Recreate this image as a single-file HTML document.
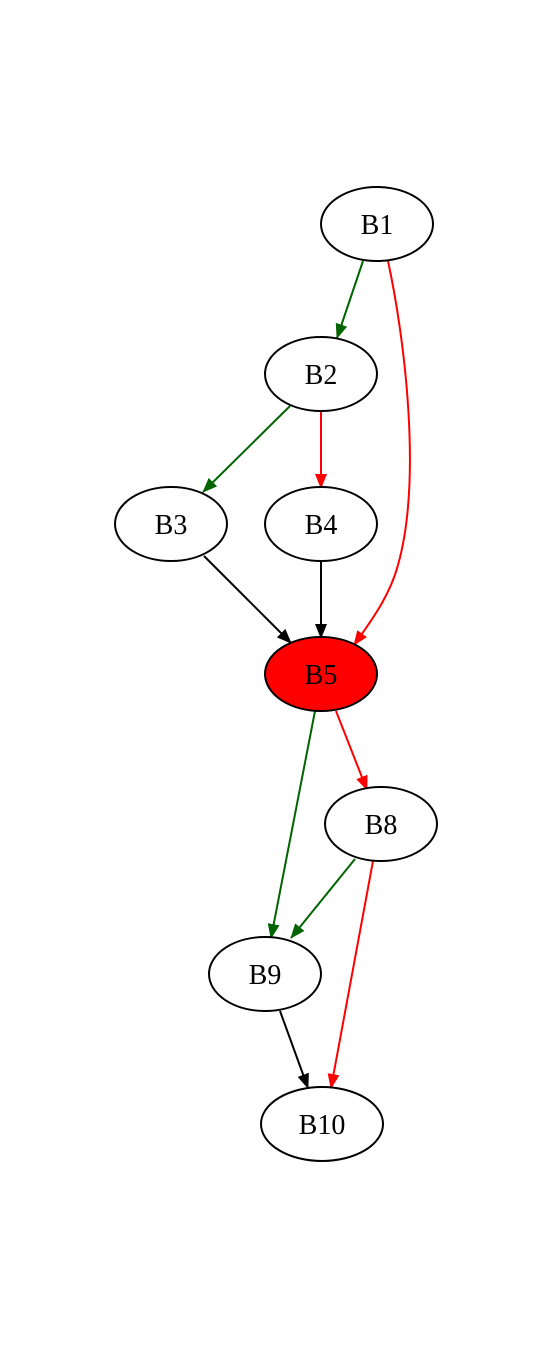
<!DOCTYPE html>
<html><head><meta charset="utf-8"><style>html,body{margin:0;padding:0;background:#fff}</style></head>
<body>
<svg width="550" height="1350" viewBox="0 0 550 1350" xmlns="http://www.w3.org/2000/svg">
<defs>
<marker id="ag" markerWidth="15" markerHeight="13" refX="14" refY="6.5" orient="auto" markerUnits="userSpaceOnUse"><path d="M0,0.5 L15,6.5 L0,12.5 z" fill="#006400"/></marker>
<marker id="ar" markerWidth="15" markerHeight="13" refX="14" refY="6.5" orient="auto" markerUnits="userSpaceOnUse"><path d="M0,0.5 L15,6.5 L0,12.5 z" fill="#f00"/></marker>
<marker id="ab" markerWidth="15" markerHeight="13" refX="14" refY="6.5" orient="auto" markerUnits="userSpaceOnUse"><path d="M0,0.5 L15,6.5 L0,12.5 z" fill="#000"/></marker>
</defs>
<g fill="none" stroke-width="2">
<path d="M363,261 L337,338" stroke="#006400" marker-end="url(#ag)"/>
<path d="M388,261 C405,340 422,480 398,565 C390,595 372,620 354,645" stroke="#f00" marker-end="url(#ar)"/>
<path d="M290,406 L203,492" stroke="#006400" marker-end="url(#ag)"/>
<path d="M321,411 L321,488" stroke="#f00" marker-end="url(#ar)"/>
<path d="M204,556 L291,643" stroke="#000" marker-end="url(#ab)"/>
<path d="M321,561 L321,638" stroke="#000" marker-end="url(#ab)"/>
<path d="M315,711 L271,938" stroke="#006400" marker-end="url(#ag)"/>
<path d="M336,711 L367,790" stroke="#f00" marker-end="url(#ar)"/>
<path d="M355,859 L291,938" stroke="#006400" marker-end="url(#ag)"/>
<path d="M373,861 L331,1088" stroke="#f00" marker-end="url(#ar)"/>
<path d="M280,1011 L308,1088" stroke="#000" marker-end="url(#ab)"/>
</g>
<g stroke="#000" stroke-width="2" fill="#fff">
<ellipse cx="377" cy="224" rx="56" ry="37"/>
<ellipse cx="321" cy="374" rx="56" ry="37"/>
<ellipse cx="171" cy="524" rx="56" ry="37"/>
<ellipse cx="321" cy="524" rx="56" ry="37"/>
<ellipse cx="321" cy="674" rx="56" ry="37" fill="#f00"/>
<ellipse cx="381" cy="824" rx="56" ry="37"/>
<ellipse cx="265" cy="974" rx="56" ry="37"/>
<ellipse cx="322" cy="1124" rx="61" ry="37"/>
</g>
<g font-family="Liberation Serif, serif" font-size="28" text-anchor="middle" fill="#000">
<text x="377" y="234">B1</text>
<text x="321" y="384">B2</text>
<text x="171" y="534">B3</text>
<text x="321" y="534">B4</text>
<text x="321" y="684">B5</text>
<text x="381" y="834">B8</text>
<text x="265" y="984">B9</text>
<text x="322" y="1134">B10</text>
</g>
</svg>
</body></html>
